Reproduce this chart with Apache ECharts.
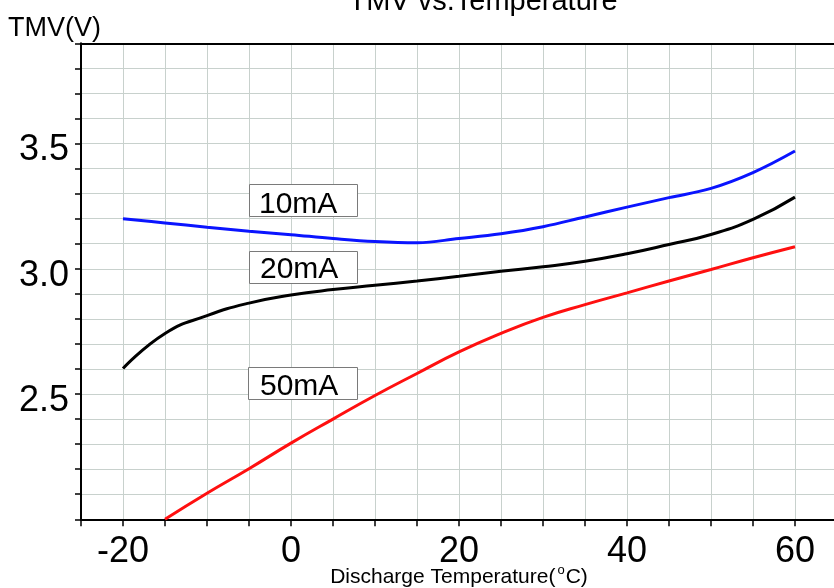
<!DOCTYPE html>
<html>
<head>
<meta charset="utf-8">
<script src="https://cdn.jsdelivr.net/npm/echarts@6/dist/echarts.min.js"></script>
<style>html,body{margin:0;padding:0;background:#fff;}#c{width:834px;height:588px;}</style>
</head>
<body>
<div id="c"></div>
<script>
// ---- data ----
const temps10 = [-20, -15, -10, -5, 0, 5, 10, 15, 20, 25, 30, 35, 40, 45, 50, 55, 60];
const tmv10   = [3.200, 3.183, 3.166, 3.150, 3.136, 3.121, 3.109, 3.104, 3.121, 3.140, 3.168, 3.207, 3.246, 3.284, 3.321, 3.384, 3.470];
const temps20 = [-20, -15, -10, -5, 0, 5, 10, 15, 20, 25, 30, 35, 40, 45, 50, 55, 60];
const tmv20   = [2.602, 2.742, 2.813, 2.863, 2.895, 2.917, 2.934, 2.951, 2.970, 2.990, 3.008, 3.030, 3.060, 3.097, 3.137, 3.197, 3.286];
const temps50 = [-15, -10, -5, 0, 5, 10, 15, 20, 25, 30, 35, 40, 45, 50, 55, 60];
const tmv50   = [2.000, 2.104, 2.202, 2.304, 2.400, 2.494, 2.582, 2.668, 2.742, 2.806, 2.857, 2.904, 2.951, 2.997, 3.044, 3.088];
const seriesNames = ['10mA', '20mA', '50mA'];
const xTickLabels = ['-20', '0', '20', '40', '60'];
const yTickLabels = ['2.5', '3.0', '3.5'];

const FONT = 'Liberation Sans';
const pair = (xs, ys) => xs.map((x, i) => [x, ys[i]]);

const chart = echarts.init(document.getElementById('c'));
const gridColor = '#c8d1cd';
chart.setOption({
  backgroundColor: '#fff',
  animation: false,
  title: [
    { text: 'TMV vs.Temperature', left: 478, textAlign: 'center', top: -18,
      textStyle: { fontFamily: FONT, fontSize: 29, fontWeight: 'normal', color: '#000' } },
    { text: 'TMV(V)', left: 3, top: 10,
      textStyle: { fontFamily: FONT, fontSize: 27, fontWeight: 'normal', color: '#000' } }
  ],
  grid: { left: 81, right: -3, top: 43.3, bottom: 68.7, outerBoundsMode: 'none', containLabel: false },
  xAxis: [{
    type: 'value', min: -25, max: 65, interval: 5,
    axisLine: { onZero: false, lineStyle: { color: '#000', width: 2 } },
    axisTick: { show: true, length: 7, lineStyle: { color: '#000', width: 1.5 } },
    axisLabel: {
      margin: 15, fontFamily: FONT, fontSize: 36, color: '#000',
      formatter: v => { const s = String(Math.round(v)); return xTickLabels.includes(s) ? s : ''; }
    },
    splitLine: { show: true, lineStyle: { color: gridColor, width: 1 } },
    name: '{a|Discharge Temperature(}{s|o}{a|C)}',
    nameLocation: 'middle', nameGap: 45, nameMoveOverlap: false,
    nameTextStyle: {
      rich: {
        a: { fontFamily: FONT, fontSize: 21, color: '#000', verticalAlign: 'bottom' },
        s: { fontFamily: FONT, fontSize: 13, color: '#000', verticalAlign: 'bottom', padding: [0, 1, 10, 2] }
      }
    }
  }, {
    type: 'value', position: 'top', min: -25, max: 65,
    axisLine: { show: true, onZero: false, lineStyle: { color: '#000', width: 2 } },
    axisTick: { show: false }, axisLabel: { show: false }, splitLine: { show: false }
  }],
  yAxis: {
    type: 'value', min: 2.0, max: 3.9, interval: 0.1,
    axisLine: { show: true, onZero: false, lineStyle: { color: '#000', width: 2 } },
    axisTick: { show: true, length: 6, lineStyle: { color: '#000', width: 1.5 } },
    axisLabel: {
      margin: 12,
      formatter: v => { const s = v.toFixed(1); return yTickLabels.includes(s) ? '{v|' + s + '}' : ''; },
      rich: { v: { fontFamily: FONT, fontSize: 36, color: '#000', padding: [14, 0, 0, 0] } }
    },
    splitLine: { show: true, lineStyle: { color: gridColor, width: 1 } }
  },
  series: [
    { name: seriesNames[0], type: 'line', data: pair(temps10, tmv10), smooth: 0.4, showSymbol: false,
      lineStyle: { color: '#0a14ff', width: 3 } },
    { name: seriesNames[1], type: 'line', data: pair(temps20, tmv20), smooth: 0.5, showSymbol: false,
      lineStyle: { color: '#000', width: 3 } },
    { name: seriesNames[2], type: 'line', data: pair(temps50, tmv50), smooth: 0.5, showSymbol: false,
      lineStyle: { color: '#ff1010', width: 3 } }
  ],
  graphic: [
    { type: 'rect', shape: { x: 249.5, y: 184.5, width: 108, height: 32 }, style: { fill: '#fff', stroke: '#7a7a7a', lineWidth: 1 }, z: 50 },
    { type: 'text', x: 259, y: 205, style: { text: seriesNames[0], font: '30px ' + FONT, fill: '#000', verticalAlign: 'middle' }, z: 51 },
    { type: 'rect', shape: { x: 249.5, y: 251.5, width: 108, height: 32 }, style: { fill: '#fff', stroke: '#7a7a7a', lineWidth: 1 }, z: 50 },
    { type: 'text', x: 260, y: 270, style: { text: seriesNames[1], font: '30px ' + FONT, fill: '#000', verticalAlign: 'middle' }, z: 51 },
    { type: 'rect', shape: { x: 248.5, y: 367.5, width: 109, height: 32 }, style: { fill: '#fff', stroke: '#7a7a7a', lineWidth: 1 }, z: 50 },
    { type: 'text', x: 260, y: 387, style: { text: seriesNames[2], font: '30px ' + FONT, fill: '#000', verticalAlign: 'middle' }, z: 51 }
  ]
});
</script>
</body>
</html>
